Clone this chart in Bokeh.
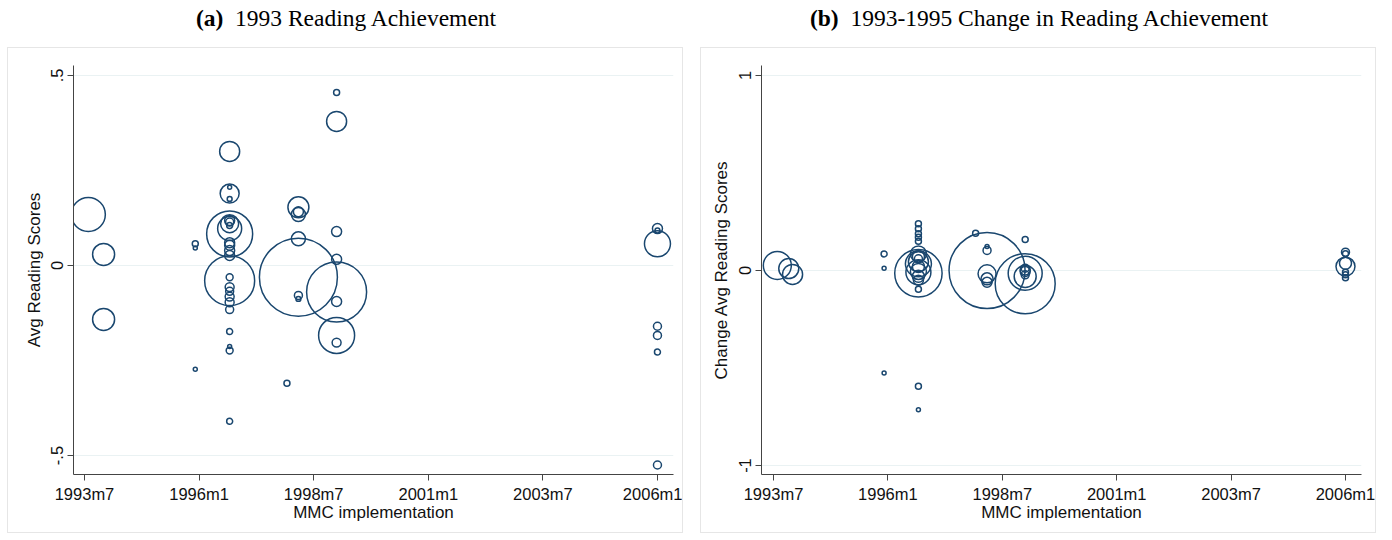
import numpy as np
from bokeh.plotting import figure
from bokeh.models import FixedTicker, Div, Range1d, ColumnDataSource
from bokeh.layouts import row, column
from bokeh.embed import file_html
from bokeh.resources import INLINE

# Stata monthly dates (months since 1960m1)
tick_months = [402, 432, 462, 492, 522, 552]
tick_labels = ["1993m7", "1996m1", "1998m7", "2001m1", "2003m7", "2006m1"]

# Panel (a): 1993 reading achievement
a_month = [403, 407, 407, 431, 431, 431,
           440, 440, 440, 440, 440, 440, 440, 440, 440, 440, 440, 440, 440, 440,
           440, 440, 440, 440, 440, 440, 440, 440, 440, 440, 440,
           455, 458, 458, 458, 458, 458, 458, 458,
           468, 468, 468, 468, 468, 468, 468, 468,
           552, 552, 552, 552, 552, 552, 552]
a_score = [0.134, 0.029, -0.142, 0.057, 0.046, -0.273,
           0.300, 0.206, 0.189, 0.175, 0.118, 0.114, 0.110, 0.105, 0.097, 0.083, 0.060, 0.053, 0.039, 0.026,
           -0.040, -0.031, -0.057, -0.068, -0.082, -0.097, -0.116, -0.174, -0.213, -0.224, -0.410,
           -0.310, 0.153, 0.141, 0.134, 0.070, -0.031, -0.079, -0.088,
           0.455, 0.379, 0.089, 0.016, -0.070, -0.095, -0.184, -0.203,
           0.097, 0.092, 0.057, -0.160, -0.184, -0.228, -0.525]
a_weight = [289, 121, 121, 9, 4, 4,
            100, 4, 90, 6, 25, 16, 81, 9, 144, 529, 25, 25, 25, 25,
            625, 12, 20, 16, 20, 20, 16, 9, 4, 12, 9,
            9, 110, 25, 49, 49, 1521, 16, 6,
            9, 100, 25, 25, 900, 25, 324, 20,
            25, 6, 169, 16, 16, 9, 16]

# Panel (b): 1993-1995 change in reading achievement
b_month = [403, 406, 407, 431, 431, 431,
           440, 440, 440, 440, 440, 440, 440, 440, 440, 440, 440, 440, 440, 440,
           440, 440, 440, 440, 440,
           455, 458, 458, 458, 458, 458, 458,
           468, 468, 468, 468, 468, 468, 468, 468,
           552, 552, 552, 552, 552, 552, 552]
b_change = [0.026, 0.010, -0.020, 0.085, 0.012, -0.525,
            0.240, 0.214, 0.188, 0.171, 0.150, 0.085, 0.070, 0.060, 0.045, 0.034, 0.020, -0.005, -0.009, -0.014,
            -0.030, -0.050, -0.096, -0.593, -0.714,
            0.191, 0.000, 0.123, 0.103, -0.017, -0.043, -0.060,
            0.159, 0.012, 0.003, -0.005, -0.014, -0.022, -0.031, -0.068,
            0.094, 0.086, 0.037, 0.020, -0.009, -0.022, -0.037]
b_weight = [196, 100, 100, 9, 4, 4,
            9, 9, 9, 9, 9, 64, 36, 16, 100, 169, 36, 64, 156, 561,
            36, 25, 9, 9, 4,
            9, 1444, 4, 16, 81, 36, 25,
            9, 16, 25, 25, 289, 16, 121, 900,
            16, 9, 36, 90, 9, 9, 9]

a_yticks = [-0.5, 0, 0.5]
a_ylabels = ["-.5", "0", ".5"]
b_yticks = [-1, 0, 1]
b_ylabels = ["-1", "0", "1"]

NAVY = "#1a476f"
GRID = "#eaf2f3"
SANS = "Liberation Sans"


def panel(months, vals, weights, xr, yr, yticks, ylabels, ylabel, left, right, ylab_standoff):
    p = figure(width=676, height=486, x_range=Range1d(*xr), y_range=Range1d(*yr),
               output_backend="svg", toolbar_location=None,
               min_border_left=left, min_border_right=right,
               min_border_top=17, min_border_bottom=60,
               styles={"border": "1px solid #e6e6e6"})
    p.outline_line_color = None
    p.background_fill_color = "white"
    p.border_fill_color = "white"
    src = ColumnDataSource(dict(x=months, y=vals, s=2 * np.sqrt(np.array(weights, dtype=float))))
    p.scatter("x", "y", size="s", source=src, marker="circle", fill_color=None,
              line_color=NAVY, line_width=1.5)
    p.xgrid.visible = False
    p.ygrid.ticker = FixedTicker(ticks=yticks)
    p.ygrid.grid_line_color = GRID
    p.ygrid.grid_line_width = 1.2

    p.xaxis.ticker = FixedTicker(ticks=tick_months)
    p.xaxis.major_label_overrides = {m: l for m, l in zip(tick_months, tick_labels)}
    p.yaxis.ticker = FixedTicker(ticks=yticks)
    p.yaxis.major_label_overrides = {t: l for t, l in zip(yticks, ylabels)}
    p.yaxis.major_label_orientation = "vertical"
    for ax in (p.xaxis, p.yaxis):
        ax.axis_line_color = "#444444"
        ax.major_tick_line_color = "#444444"
        ax.major_tick_out = 6
        ax.major_tick_in = 0
        ax.minor_tick_line_color = None
        ax.major_label_text_font = SANS
        ax.major_label_text_font_size = "16.5px"
        ax.major_label_text_color = "#111111"
        ax.axis_label_text_font = SANS
        ax.axis_label_text_font_size = "17px"
        ax.axis_label_text_font_style = "normal"
        ax.axis_label_text_color = "#111111"
    p.xaxis.axis_label = "MMC implementation"
    p.xaxis.major_label_standoff = 4
    p.xaxis.axis_label_standoff = -3
    p.yaxis.axis_label = ylabel
    p.yaxis.major_label_standoff = 4
    p.yaxis.axis_label_standoff = ylab_standoff
    return p


pa = panel(a_month, a_score, a_weight, (399.12, 556.2), (-0.55, 0.526),
           a_yticks, a_ylabels, "Avg Reading Scores", 65, 11, 5)
pb = panel(b_month, b_change, b_weight, (398.85, 556.2), (-1.046, 1.051),
           b_yticks, b_ylabels, "Change Avg Reading Scores", 60, 16, 6)

tstyle = ("display:block;width:678px;text-align:center;font-family:'Liberation Serif';"
          "font-size:23.5px;line-height:24px;padding-top:6px;color:#000;")
dstyle = {"text-align": "center", "width": "678px"}
ta = Div(text=f"<div style=\"{tstyle}\"><b>(a)</b>&nbsp; 1993 Reading Achievement</div>",
         width=678, height=47, styles=dstyle, margin=(0, 0, 0, 0))
tb = Div(text=f"<div style=\"{tstyle}\"><b>(b)</b>&nbsp; 1993-1995 Change in Reading Achievement</div>",
         width=678, height=47, styles=dstyle, margin=(0, 0, 0, 0))

layout = row(column(ta, pa, spacing=0), column(tb, pb, spacing=0), spacing=15,
             margin=(0, 0, 0, 7))
open("out.html", "w").write(file_html(layout, INLINE))
